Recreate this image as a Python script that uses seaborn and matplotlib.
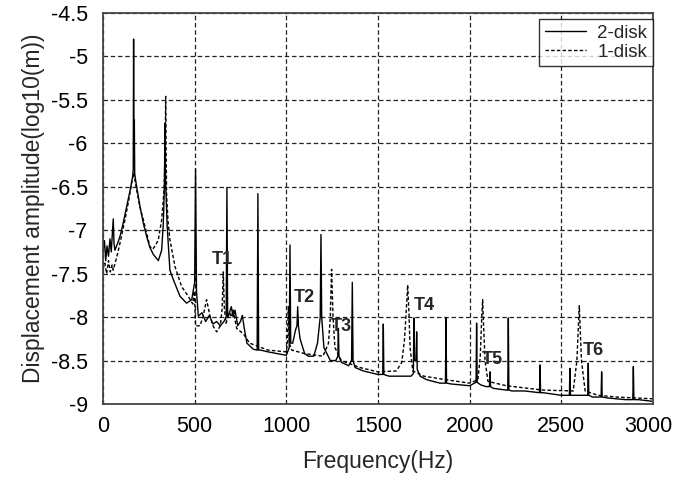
import numpy as np
import pandas as pd
import matplotlib
matplotlib.use("Agg")
import matplotlib.pyplot as plt
import matplotlib.transforms as mtransforms
import seaborn as sns
from matplotlib.lines import Line2D

# ---------------- data ----------------
freq_2disk = [0, 8, 15, 22, 30, 38, 45, 52, 56, 60, 65, 80, 93, 110, 129, 150, 162, 165, 167, 169, 171, 173,
              180, 202, 220, 238, 256, 275, 302, 320, 329, 335, 338, 341, 350, 365, 384, 420, 456, 484, 500,
              505, 510, 520, 540, 560, 580, 600, 620, 640, 660, 672, 676, 680, 690, 700, 710, 720, 735, 750,
              760, 770, 785, 820, 841, 845, 849, 860, 900, 950, 1000, 1016, 1020, 1024, 1035, 1050, 1058,
              1062, 1066, 1075, 1100, 1120, 1150, 1170, 1185, 1189, 1193, 1205, 1240, 1270, 1281, 1284, 1287,
              1300, 1340, 1356, 1360, 1364, 1375, 1420, 1500, 1526, 1529, 1532, 1560, 1620, 1680, 1693, 1696,
              1700, 1708, 1711, 1714, 1730, 1765, 1838, 1868, 1871, 1874, 1900, 2000, 2035, 2038, 2041, 2060,
              2090, 2108, 2111, 2114, 2129, 2200, 2208, 2211, 2214, 2230, 2300, 2381, 2384, 2387, 2400, 2500,
              2544, 2547, 2550, 2570, 2620, 2644, 2647, 2650, 2670, 2717, 2720, 2723, 2750, 2850, 2890, 2893,
              2896, 2920, 3000]
amp_2disk = [-7.25, -7.12, -7.35, -7.18, -7.30, -7.10, -7.25, -7.00, -6.87, -7.15, -7.23, -7.15, -7.07,
             -6.92, -6.73, -6.52, -6.38, -6.30, -4.80, -6.20, -5.73, -6.35, -6.45, -6.73, -6.92, -7.07, -7.20,
             -7.28, -7.35, -7.23, -6.92, -6.50, -5.77, -6.40, -6.95, -7.46, -7.57, -7.76, -7.84, -7.80, -7.60,
             -6.30, -7.70, -7.99, -7.95, -8.05, -7.98, -8.08, -8.05, -8.10, -8.05, -8.00, -6.51, -8.00, -7.95,
             -7.88, -8.00, -7.92, -8.10, -8.05, -7.98, -8.12, -8.30, -8.37, -8.38, -6.58, -8.38, -8.38, -8.40,
             -8.42, -8.44, -8.35, -7.17, -8.30, -8.30, -8.15, -8.10, -7.88, -8.10, -8.25, -8.42, -8.45, -8.45,
             -8.30, -8.00, -7.05, -8.00, -8.35, -8.50, -8.50, -8.45, -8.13, -8.45, -8.52, -8.56, -8.50, -7.60,
             -8.50, -8.58, -8.62, -8.66, -8.66, -8.08, -8.66, -8.68, -8.68, -8.68, -8.65, -8.01, -8.50, -8.50,
             -8.17, -8.60, -8.68, -8.72, -8.76, -8.76, -8.01, -8.76, -8.77, -8.79, -8.75, -8.07, -8.75, -8.78,
             -8.80, -8.80, -8.63, -8.80, -8.82, -8.84, -8.84, -8.01, -8.84, -8.85, -8.85, -8.87, -8.55, -8.87,
             -8.87, -8.90, -8.90, -8.59, -8.90, -8.90, -8.90, -8.90, -8.53, -8.90, -8.92, -8.92, -8.63, -8.92,
             -8.93, -8.95, -8.95, -8.57, -8.95, -8.95, -8.97]

freq_1disk = [0, 10, 20, 30, 40, 50, 56, 70, 84, 100, 120, 140, 156, 167, 184, 200, 220, 240, 256, 270, 285,
              302, 320, 333, 339, 342, 345, 347, 355, 365, 393, 429, 465, 490, 498, 505, 529, 545, 565, 585,
              602, 620, 640, 650, 656, 662, 671, 690, 700, 710, 729, 765, 800, 900, 1000, 1006, 1011, 1016,
              1030, 1100, 1200, 1230, 1240, 1247, 1255, 1265, 1300, 1400, 1500, 1600, 1630, 1645, 1655, 1662,
              1669, 1675, 1690, 1750, 1900, 2000, 2045, 2058, 2066, 2071, 2076, 2084, 2100, 2200, 2400, 2565,
              2585, 2598, 2610, 2630, 2700, 2800, 3000]
amp_1disk = [-7.45, -7.38, -7.50, -7.35, -7.48, -7.40, -7.46, -7.35, -7.23, -7.08, -6.88, -6.66, -6.46,
             -6.34, -6.54, -6.72, -6.88, -7.05, -7.19, -7.22, -7.18, -7.11, -6.88, -6.54, -6.10, -5.46, -6.20,
             -6.60, -6.90, -7.11, -7.42, -7.65, -7.76, -7.85, -7.70, -8.10, -8.10, -8.00, -7.80, -8.00, -8.11,
             -8.17, -8.10, -7.90, -7.48, -7.90, -8.07, -7.95, -8.00, -7.92, -8.13, -8.19, -8.30, -8.38, -8.40,
             -8.30, -7.88, -8.30, -8.38, -8.42, -8.45, -8.30, -8.00, -7.45, -8.00, -8.35, -8.50, -8.58, -8.63,
             -8.62, -8.52, -8.25, -7.90, -7.63, -7.95, -8.35, -8.62, -8.68, -8.73, -8.76, -8.72, -8.45, -8.00,
             -7.80, -8.10, -8.50, -8.74, -8.79, -8.84, -8.85, -8.50, -7.87, -8.50, -8.85, -8.90, -8.92, -8.94]

series_names = ["2-disk", "1-disk"]
mode_labels = ["T1", "T2", "T3", "T4", "T5", "T6"]
mode_label_freq = [649, 1096, 1298, 1751, 2122, 2672]
mode_label_amp = [-7.34, -7.77, -8.11, -7.87, -8.49, -8.38]

x_ticks = [0, 500, 1000, 1500, 2000, 2500, 3000]
y_ticks = [-4.5, -5, -5.5, -6, -6.5, -7, -7.5, -8, -8.5, -9]
y_tick_labels = ["-4.5", "-5", "-5.5", "-6", "-6.5", "-7", "-7.5", "-8", "-8.5", "-9"]

# ---------------- plot ----------------
sns.set_style("white")
plt.rcParams["font.family"] = ["Liberation Sans", "DejaVu Sans"]
plt.rcParams["axes.unicode_minus"] = False

df2 = pd.DataFrame({"freq": freq_2disk, "amp": amp_2disk})
df1 = pd.DataFrame({"freq": freq_1disk, "amp": amp_1disk})

fig = plt.figure(figsize=(6.74, 4.79), dpi=100)
ax = fig.add_axes([0.1528, 0.1566, 0.8160, 0.8163])

sns.lineplot(data=df1, x="freq", y="amp", ax=ax, sort=False, estimator=None,
             color="black", linewidth=1.0, linestyle=(0, (2.5, 1.6)))
sns.lineplot(data=df2, x="freq", y="amp", ax=ax, sort=False, estimator=None,
             color="black", linewidth=1.0)

ax.set_xlim(0, 3000)
ax.set_ylim(-9, -4.5)
ax.set_xticks(x_ticks)
ax.set_xticklabels([str(t) for t in x_ticks])
ax.set_yticks(y_ticks)
ax.set_yticklabels(y_tick_labels)
ax.tick_params(axis="both", length=0, labelsize=15.5, colors="black")
ax.tick_params(axis="x", pad=9)
ax.tick_params(axis="y", pad=11)

# keep the last x tick label inside the canvas
last = ax.get_xticklabels()[-1]
last.set_transform(last.get_transform() + mtransforms.ScaledTranslation(-5 / 100, 0, fig.dpi_scale_trans))

ax.grid(True, color="#222222", linestyle=(0, (3.6, 2.2)), linewidth=0.9)
for s in ax.spines.values():
    s.set_color("#444444")
    s.set_linewidth(1.3)

ax.set_xlabel("Frequency(Hz)", fontsize=16.5, labelpad=9)
ax.set_ylabel("Displacement amplitude(log10(m))", fontsize=16.5, labelpad=4)

for lab, fx, fy in zip(mode_labels, mode_label_freq, mode_label_amp):
    ax.text(fx, fy, lab, fontsize=13, fontweight="bold", ha="center", va="center")

handles = [Line2D([], [], color="black", linewidth=1.0),
           Line2D([], [], color="black", linewidth=1.0, linestyle=(0, (2.5, 1.6)))]
leg = ax.legend(handles, series_names, loc="upper right", bbox_to_anchor=(1.0, 0.985),
                borderaxespad=0, fontsize=13.5, frameon=True, fancybox=False,
                handlelength=2.2, handletextpad=0.6, borderpad=0.3, labelspacing=0.1)
leg.get_frame().set_edgecolor("black")
leg.get_frame().set_linewidth(1.0)

fig.savefig("out.png", dpi=100)
